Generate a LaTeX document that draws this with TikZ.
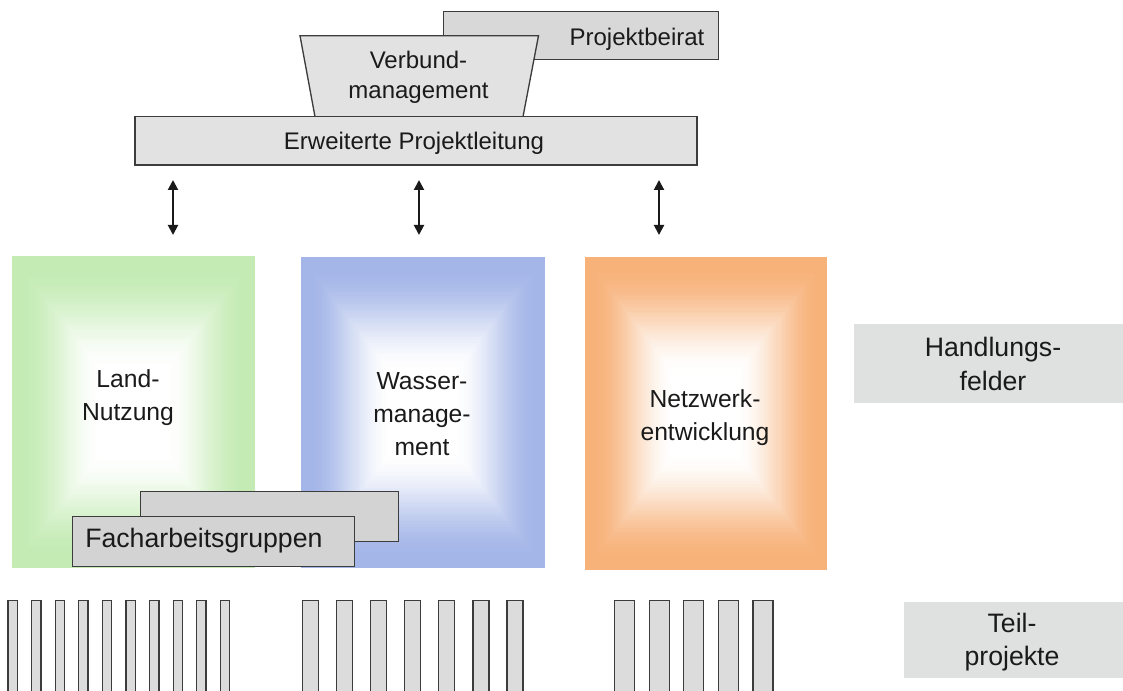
\documentclass[tikz,border=0pt]{standalone}
\usepackage{fontspec}
\setmainfont{Liberation Sans}
\usetikzlibrary{arrows.meta}

\definecolor{ink}{HTML}{1A1A1A}
\definecolor{frame}{HTML}{3C3C3C}
\definecolor{greyA}{HTML}{E2E2E2}
\definecolor{greyB}{HTML}{D8D8D8}
\definecolor{greyC}{HTML}{D3D3D3}
\definecolor{greyD}{HTML}{DFE0E0}
\definecolor{barfill}{HTML}{DCDCDC}
\definecolor{fieldgreen}{HTML}{C3EBB3}
\definecolor{fieldblue}{HTML}{A4B6E8}
\definecolor{fieldorange}{HTML}{F7B27A}

% rectangle shaded from its border colour towards a white centre
% (concentric rings, smoothstep fade)
\newcommand\fieldbox[5]{%
  \foreach \i in {0,...,60}{%
    \pgfmathsetmacro\xa{#1+(#3-#1)/120*\i}%
    \pgfmathsetmacro\ya{#2+(#4-#2)/120*\i}%
    \pgfmathsetmacro\xb{#3-(#3-#1)/120*\i}%
    \pgfmathsetmacro\yb{#4-(#4-#2)/120*\i}%
    \pgfmathsetmacro\u{min(1,max(0,(\i/60-0.06)/0.68))}%
    \pgfmathsetmacro\p{100*(1-\u*\u*(3-2*\u))}%
    \fill[#5!\p!white] (\xa,\ya) rectangle (\xb,\yb);
  }%
}

\tikzset{
  toptxt/.style={text=ink, align=center, inner sep=0pt,
              font=\fontsize{18}{22.5}\selectfont},
  fieldtxt/.style={text=ink, align=center, inner sep=0pt,
              font=\fontsize{18.5}{25}\selectfont},
  sidetxt/.style={text=ink, align=center, inner sep=0pt,
              font=\fontsize{20}{24.8}\selectfont},
  greybox/.style={draw=frame, line width=1pt},
  bar/.style={draw=frame, line width=1pt, fill=barfill},
  biarrow/.style={draw=ink, line width=1.5pt,
                  {Triangle[length=7.5pt,width=7.5pt]}-{Triangle[length=7.5pt,width=7.5pt]}}
}

\begin{document}
\begin{tikzpicture}[x=0.75pt, y=-0.75pt]
\useasboundingbox (0,0) rectangle (1123,691);
\clip (0,0) rectangle (1123,691);
\fill[white] (0,0) rectangle (1123,691);

% --- steering level ---
\draw[greybox, fill=greyB] (443.5,11.7) rectangle (718.5,59.3);
\node[toptxt] (beirat) at (637,39) {Projektbeirat};

\draw[greybox, fill=greyA] (300,35.7) -- (538.5,35.7) -- (523,116.7) -- (315,116.7) -- cycle;
\node[toptxt] (verbund) at (418.5,77) {Verbund-\\management};

\draw[greybox, fill=greyA] (135,116.7) rectangle (697,165);
\node[toptxt] (leitung) at (414,143.5) {Erweiterte Projektleitung};

% --- links between steering and fields ---
\coordinate (u1) at (173,180);  \coordinate (d1) at (173,235);
\coordinate (u2) at (419,180);  \coordinate (d2) at (419,235);
\coordinate (u3) at (659,180);  \coordinate (d3) at (659,235);
\draw[biarrow] (u1) -- (d1);
\draw[biarrow] (u2) -- (d2);
\draw[biarrow] (u3) -- (d3);

% --- fields of action ---
\fieldbox{12}{256}{255}{568}{fieldgreen}
\fieldbox{300.5}{257}{545}{568}{fieldblue}
\fieldbox{584.5}{257}{827}{570}{fieldorange}

\node[fieldtxt] (land) at (128,397.5) {Land-\\Nutzung};
\node[fieldtxt] (wasser) at (422,414) {Wasser-\\manage-\\ment};
\node[fieldtxt] (netz) at (705,417.5) {Netzwerk-\\entwicklung};

% working groups
\draw[greybox, fill=greyC] (140.7,491.7) rectangle (398.4,541.7);
\draw[greybox, fill=greyC] (72.7,516.7) rectangle (354.6,566.7);
\node[sidetxt, anchor=west] (fag) at (85,541) {Facharbeitsgruppen};

% --- side labels ---
\fill[greyD] (853.5,324) rectangle (1130,402.7);
\node[sidetxt] (hf) at (993,364) {Handlungs-\\felder};

\fill[greyD] (904,601.5) rectangle (1130,678.3);
\node[sidetxt] (tp) at (1012,642) {Teil-\\projekte};

% --- sub-projects ---
\foreach \k in {0,...,9}{
  \draw[bar] (8+23.6*\k,600.7) rectangle ++(9.3,100);
}
\foreach \k in {0,...,6}{
  \draw[bar] (302.2+34.15*\k,600.7) rectangle ++(16,100);
}
\foreach \k in {0,...,4}{
  \draw[bar] (614.6+34.6*\k,600.7) rectangle ++(20,100);
}
\end{tikzpicture}
\end{document}
